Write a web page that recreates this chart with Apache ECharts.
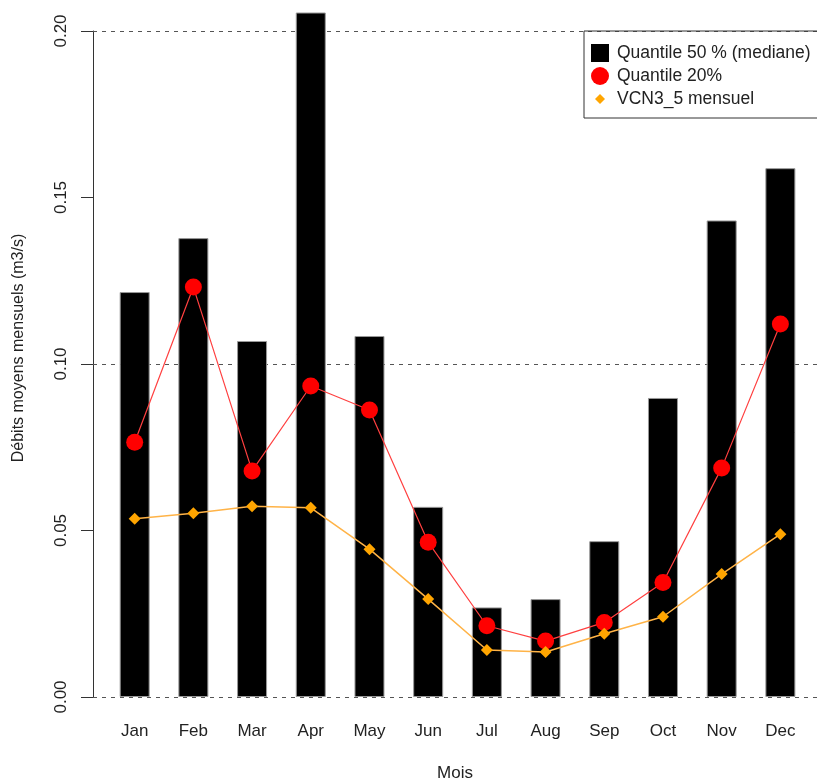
<!DOCTYPE html>
<html>
<head>
<meta charset="utf-8">
<script src="https://cdn.jsdelivr.net/npm/echarts@6/dist/echarts.min.js"></script>
<style>
  html, body { margin: 0; padding: 0; background: #fff; }
  #main { width: 817px; height: 782px; }
</style>
</head>
<body>
<div id="main"></div>
<script>
// donnees mensuelles
var months = ['Jan', 'Feb', 'Mar', 'Apr', 'May', 'Jun', 'Jul', 'Aug', 'Sep', 'Oct', 'Nov', 'Dec'];
var q50 = [0.1216, 0.1378, 0.1069, 0.215, 0.1084, 0.0571, 0.0269, 0.0294, 0.0468, 0.0898, 0.1431, 0.1588];
var q20 = [0.0765, 0.1231, 0.0679, 0.0934, 0.0862, 0.0465, 0.0214, 0.0168, 0.0224, 0.0344, 0.0688, 0.1120];
var vcn3 = [0.0535, 0.0552, 0.0573, 0.0568, 0.0444, 0.0294, 0.0141, 0.0135, 0.0190, 0.0241, 0.0369, 0.0489];
var yTicks = [0, 0.05, 0.10, 0.15, 0.20];
var refLines = [0, 0.1, 0.2];

// position des barres comme dans barplot(space = 1)
function pos(i) { return 1.5 + 2 * i; }
var xPos = months.map(function (m, i) { return pos(i); });

var font = 'Liberation Sans, Arial, sans-serif';
var txt = '#222';

var chart = echarts.init(document.getElementById('main'));
var option = {
    animation: false,
    textStyle: { fontFamily: font },
    grid: [
        { left: 93, right: 0, top: 13, bottom: 85, outerBoundsMode: 'none' },
        { left: 93, right: 0, top: 31, bottom: 85, outerBoundsMode: 'none' }
    ],
    legend: {
        orient: 'vertical',
        left: 584,
        top: 31,
        padding: [13, 30, 10, 7],
        itemWidth: 18,
        itemHeight: 18,
        itemGap: 5,
        borderColor: '#333',
        borderWidth: 1,
        textStyle: { fontSize: 17.5, color: txt, fontFamily: font, padding: [0, 0, 0, 3] },
        data: [
            { name: 'Quantile 50 % (mediane)', icon: 'rect', itemStyle: { borderWidth: 0 } },
            { name: 'Quantile 20%', icon: 'circle' },
            { name: 'VCN3_5 mensuel', icon: 'path://M0,0 M18,18 M9,4 L14,9 L9,14 L4,9 Z' }
        ]
    },
    xAxis: [
        {
            type: 'value',
            gridIndex: 0,
            min: 0.08,
            max: 0.08 + 724 / 29.35,
            axisLine: { show: false },
            axisTick: { show: false },
            splitLine: { show: false },
            axisLabel: {
                customValues: xPos,
                formatter: function (v) { return months[Math.round((v - 1.5) / 2)]; },
                margin: 26,
                fontSize: 17,
                color: txt
            },
            name: 'Mois',
            nameLocation: 'middle',
            nameGap: 68,
            nameTextStyle: { fontSize: 17, color: txt }
        },
        { type: 'value', gridIndex: 1, show: false, min: 0, max: 1 }
    ],
    yAxis: [
        {
            type: 'value',
            gridIndex: 0,
            min: 0,
            max: 0.2054,
            axisLine: { show: false },
            axisTick: { show: false },
            axisLabel: { show: false },
            splitLine: { show: false },
            name: 'Débits moyens mensuels (m3/s)',
            nameLocation: 'middle',
            nameGap: 66,
            nameTextStyle: { fontSize: 16, color: txt, padding: [0, 0, 0, 14] }
        },
        {
            type: 'value',
            gridIndex: 1,
            min: 0,
            max: 0.2,
            interval: 0.05,
            axisLine: { show: true, lineStyle: { color: '#333', width: 1 } },
            axisTick: { show: true, length: 12, customValues: yTicks, lineStyle: { color: '#333' } },
            splitLine: { show: false },
            axisLabel: {
                customValues: yTicks,
                rotate: 90,
                margin: 23,
                fontSize: 17,
                color: txt,
                formatter: function (v) { return v.toFixed(2); }
            }
        }
    ],
    series: [
        {
            name: 'Quantile 50 % (mediane)',
            type: 'bar',
            xAxisIndex: 0,
            yAxisIndex: 0,
            barWidth: 30,
            clip: true,
            itemStyle: { color: '#000', borderColor: '#999', borderWidth: 1 },
            data: q50.map(function (v, i) { return [xPos[i], v]; }),
            markLine: {
                z: 1,
                silent: true,
                symbol: 'none',
                label: { show: false },
                lineStyle: { color: '#555', type: [4, 5], width: 1 },
                data: refLines.map(function (v) { return { yAxis: v }; })
            }
        },
        {
            name: 'Quantile 20%',
            type: 'line',
            xAxisIndex: 0,
            yAxisIndex: 0,
            symbol: 'circle',
            symbolSize: 17,
            itemStyle: { color: '#ff0000' },
            lineStyle: { color: '#ff4040', width: 1.2 },
            data: q20.map(function (v, i) { return [xPos[i], v]; }),
            z: 3
        },
        {
            name: 'VCN3_5 mensuel',
            type: 'line',
            xAxisIndex: 0,
            yAxisIndex: 0,
            symbol: 'diamond',
            symbolSize: 12,
            itemStyle: { color: '#ffa500' },
            lineStyle: { color: '#ffb347', width: 1.5 },
            data: vcn3.map(function (v, i) { return [xPos[i], v]; }),
            z: 4
        }
    ]
};
chart.setOption(option);
</script>
</body>
</html>
